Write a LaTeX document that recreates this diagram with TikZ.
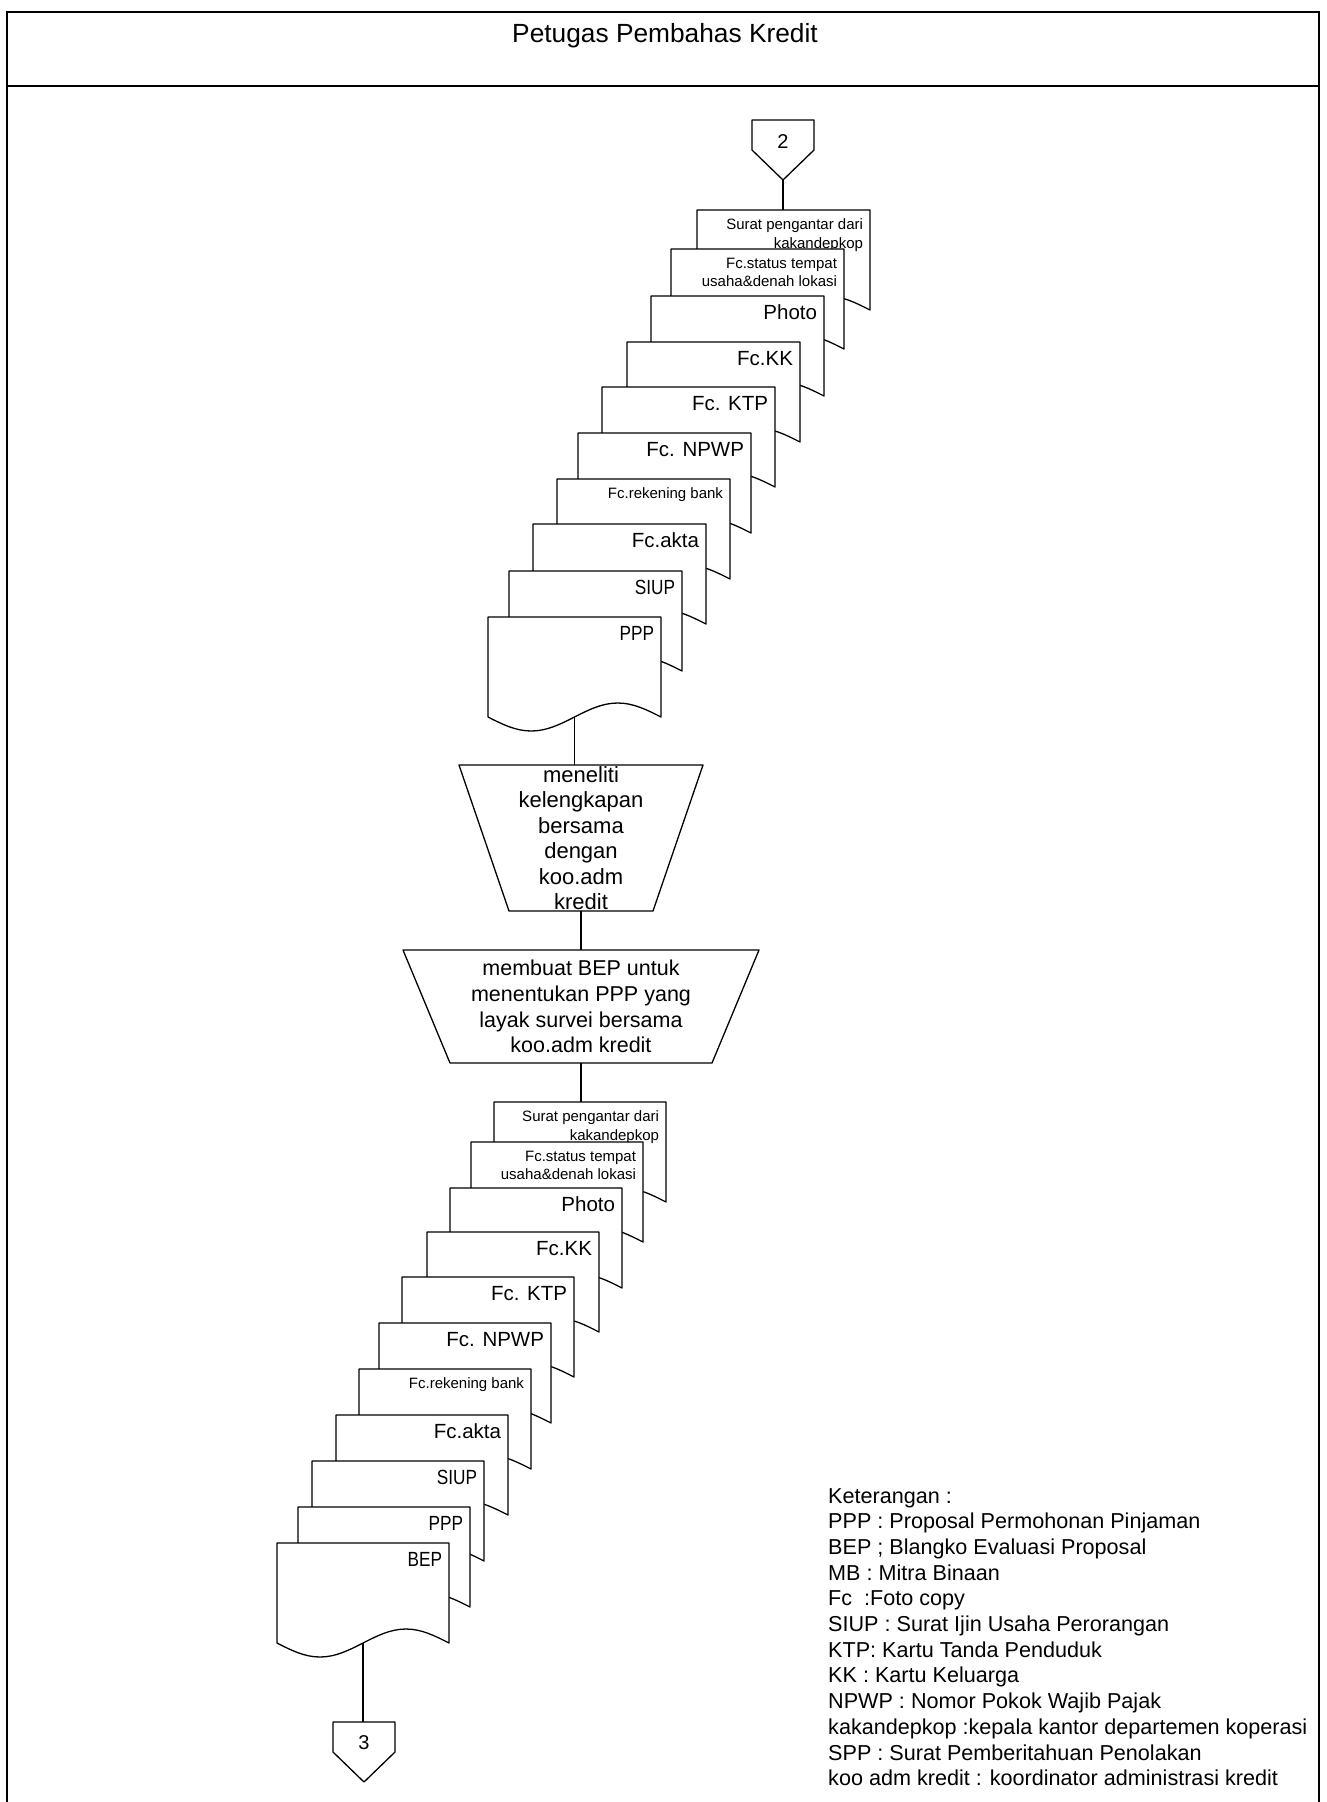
\documentclass[tikz,border=0pt]{standalone}
\usepackage{fontspec}
\setmainfont{Liberation Sans}
\usepackage{graphicx}
\usetikzlibrary{calc}

\tikzset{
  frameline/.style={line width=1.6pt},
  shapeline/.style={line width=1.3pt, line join=round},
  conn/.style={line width=1.2pt},
  sheet/.style={rectangle, draw=none, inner sep=0pt, outer sep=0pt,
                minimum height=100pt, anchor=north west},
  sheetline/.style={line width=1.3pt, fill=white, line join=round},
  sheettext/.style={inner sep=0pt, outer sep=0pt, align=right, anchor=north east},
  smalllabel/.style={font=\fontsize{15}{18.5}\selectfont},
  biglabel/.style={font=\fontsize{20.5}{24}\selectfont},
  procbox/.style={rectangle, draw=none, inner sep=0pt, outer sep=0pt, align=center},
  pagelabel/.style={font=\fontsize{20}{24}\selectfont, inner sep=0pt},
}

% document symbol: name, left, top, width, label style, label text
\newcommand\docsheet[6]{%
  \node[sheet, minimum width=#4pt] (#1) at (#2,#3) {};
  \draw[sheetline] (#1.south west) -- (#1.north west) -- (#1.north east) -- (#1.south east)
    sin ++(-#4/4,-14) cos ++(-#4/4,14) sin ++(-#4/4,14) cos ++(-#4/4,-14) -- cycle;
  \node[sheettext, #5] (#1-text) at ([xshift=-7pt,yshift=-9pt]#1.north east) {#6};
}
\newcommand\narrowtxt[1]{\scalebox{0.84}[1]{#1}}

\begin{document}
\begin{tikzpicture}[x=1pt, y=-1pt]
\useasboundingbox (0,0) rectangle (1326,1802);

% swimlane frame
\draw[frameline] (7,1802) -- (7,12) -- (1319,12) -- (1319,1802);
\draw[frameline] (7,86) -- (1319,86);
\node[font=\fontsize{26.3}{31}\selectfont, anchor=base] (title) at (665,42) {Petugas Pembahas Kredit};

% off-page connector 2
\node[pagelabel] (c2) at (783,142) {2};
\draw[shapeline] ($(c2.center)+(-31,-22)$) -- ++(62,0) -- ++(0,30) -- ++(-31,30) -- ++(-31,-30) -- cycle;
\coordinate (c2tip) at ($(c2.center)+(0,38)$);

% incoming documents
\docsheet{d1}{697}{210}{173}{smalllabel}{Surat pengantar dari\\kakandepkop}
\docsheet{d2}{671}{249}{173}{smalllabel}{Fc.status tempat\\usaha\&denah lokasi}
\docsheet{d3}{651}{296}{173}{biglabel}{Photo}
\docsheet{d4}{627}{342}{173}{biglabel}{Fc.KK}
\docsheet{d5}{602}{387}{173}{biglabel}{Fc. KTP}
\docsheet{d6}{578}{433}{173}{biglabel}{Fc. NPWP}
\docsheet{d7}{557}{479}{173}{smalllabel}{Fc.rekening bank}
\docsheet{d8}{533}{524}{173}{biglabel}{Fc.akta}
\docsheet{d9}{509}{571}{173}{biglabel}{\narrowtxt{SIUP}}
\docsheet{d10}{488}{617}{173}{biglabel}{\narrowtxt{PPP}}

% manual operations
\node[procbox, minimum width=244pt, minimum height=146pt,
      font=\fontsize{22}{25.5}\selectfont] (t1) at (581,838)
  {meneliti\\kelengkapan\\bersama\\dengan\\koo.adm\\kredit};
\draw[shapeline] (t1.north west) -- (t1.north east) -- ([xshift=-50pt]t1.south east)
  -- ([xshift=50pt]t1.south west) -- cycle;

\node[procbox, minimum width=356pt, minimum height=113pt,
      font=\fontsize{21.5}{25.7}\selectfont] (t2) at (581,1006.5)
  {membuat BEP untuk\\menentukan PPP yang\\layak survei bersama\\koo.adm kredit};
\draw[shapeline] (t2.north west) -- (t2.north east) -- ([xshift=-47pt]t2.south east)
  -- ([xshift=47pt]t2.south west) -- cycle;

% outgoing documents
\docsheet{e1}{494}{1102}{172}{smalllabel}{Surat pengantar dari\\kakandepkop}
\docsheet{e2}{471}{1142}{172}{smalllabel}{Fc.status tempat\\usaha\&denah lokasi}
\docsheet{e3}{450}{1188}{172}{biglabel}{Photo}
\docsheet{e4}{427}{1232}{172}{biglabel}{Fc.KK}
\docsheet{e5}{402}{1277}{172}{biglabel}{Fc. KTP}
\docsheet{e6}{379}{1323}{172}{biglabel}{Fc. NPWP}
\docsheet{e7}{359}{1369}{172}{smalllabel}{Fc.rekening bank}
\docsheet{e8}{336}{1415}{172}{biglabel}{Fc.akta}
\docsheet{e9}{312}{1461}{172}{biglabel}{\narrowtxt{SIUP}}
\docsheet{e10}{298}{1507}{172}{biglabel}{\narrowtxt{PPP}}
\docsheet{e11}{277}{1543}{172}{biglabel}{\narrowtxt{BEP}}

% off-page connector 3
\node[pagelabel] (c3) at (364,1743) {3};
\draw[shapeline] ($(c3.center)+(-31,-21)$) -- ++(62,0) -- ++(0,30) -- ++(-31,30) -- ++(-31,-30) -- cycle;
\coordinate (c3top) at ($(c3.center)+(0,-21)$);

% flow lines
\draw[conn] (c2tip) -- (c2tip |- d1.north);
\draw[conn] (d10.south) -- (d10.south |- t1.north);
\draw[conn] (t1.south) -- (t2.north);
\draw[conn] (t2.south) -- (t2.south |- e1.north);
\draw[conn] (e11.south) -- (e11.south |- c3top);

% abbreviations
\node[anchor=north west, align=left, inner sep=0pt,
      font=\fontsize{21.6}{25.7}\selectfont] (legend) at (828,1488)
  {Keterangan :\\
   PPP : Proposal Permohonan Pinjaman\\
   BEP ; Blangko Evaluasi Proposal\\
   MB : Mitra Binaan\\
   Fc\ \ :Foto copy\\
   SIUP : Surat Ijin Usaha Perorangan\\
   KTP: Kartu Tanda Penduduk\\
   KK : Kartu Keluarga\\
   NPWP : Nomor Pokok Wajib Pajak\\
   kakandepkop :kepala kantor departemen koperasi\\
   SPP : Surat Pemberitahuan Penolakan\\
   koo adm kredit : koordinator administrasi kredit};
\end{tikzpicture}
\end{document}
